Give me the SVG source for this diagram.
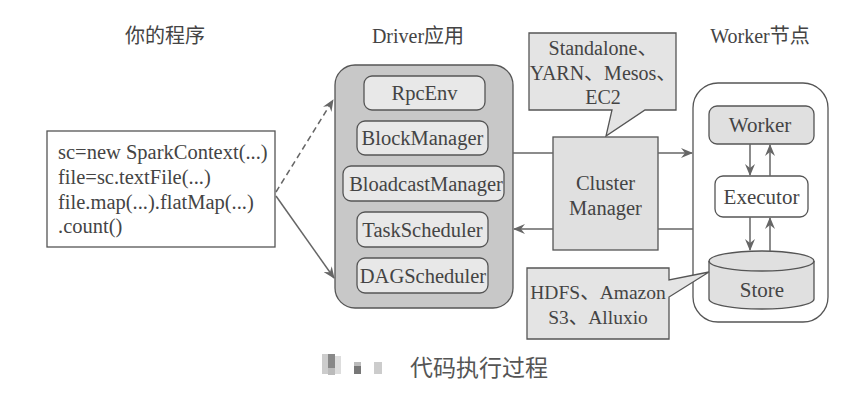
<svg xmlns="http://www.w3.org/2000/svg" width="868" height="402" viewBox="0 0 868 402">
<style>
text{font-family:"Liberation Serif",serif;fill:#444;font-size:20.5px}
.cjk{font-family:"Noto Sans CJK SC",sans-serif}
.title{font-size:20px;text-anchor:middle}
.c{text-anchor:middle}
.box{stroke:#555;stroke-width:1.3}
.line{stroke:#666;stroke-width:1.5;fill:none}
</style>
<defs>
<marker id="ah" viewBox="0 0 12 10" refX="11" refY="5" markerWidth="12" markerHeight="10" markerUnits="userSpaceOnUse" orient="auto">
<path d="M0,0 L12,5 L0,10 L4,5 z" fill="#666"/>
</marker>
</defs>
<rect width="868" height="402" fill="#fff"/>
<text class="title cjk" x="165" y="43">你的程序</text>
<text class="title" x="418" y="43">Driver<tspan class="cjk">应用</tspan></text>
<text class="title" x="760" y="43">Worker<tspan class="cjk">节点</tspan></text>

<g id="code">
<rect class="box" x="47" y="131" width="228" height="116" fill="#fff"/>
<text x="58" y="159">sc=new SparkContext(...)</text>
<text x="58" y="184">file=sc.textFile(...)</text>
<text x="58" y="209">file.map(...).flatMap(...)</text>
<text x="58" y="233">.count()</text>
</g>

<g id="driver">
<rect class="box" x="335" y="65" width="178" height="243" rx="20" fill="#c8c8c8"/>
<g id="rpcenv"><rect class="box" x="364" y="76" width="121" height="34" rx="8" fill="#e8e8e8"/><text class="c" x="424.5" y="100">RpcEnv</text></g>
<g id="blockmanager"><rect class="box" x="357" y="121" width="131" height="34" rx="8" fill="#e8e8e8"/><text class="c" x="422.5" y="145">BlockManager</text></g>
<g id="bloadcastmanager"><rect class="box" x="343" y="166" width="161" height="35" rx="8" fill="#e8e8e8"/><text class="c" x="426" y="191">BloadcastManager</text></g>
<g id="taskscheduler"><rect class="box" x="357" y="212" width="131" height="35" rx="8" fill="#e8e8e8"/><text class="c" x="422.5" y="237">TaskScheduler</text></g>
<g id="dagscheduler"><rect class="box" x="357" y="258" width="131" height="35" rx="8" fill="#e8e8e8"/><text class="c" x="423" y="283">DAGScheduler</text></g>
</g>

<g id="callout1">
<path class="box" d="M529,33 H676 V110 H645 L606,136 L612,110 H529 Z" fill="#e4e4e4"/>
<text class="c" x="603" y="55" style="font-size:20px">Standalone<tspan class="cjk">、</tspan></text>
<text class="c" x="603" y="80" style="font-size:20px">YARN<tspan class="cjk">、</tspan>Mesos<tspan class="cjk">、</tspan></text>
<text class="c" x="603" y="104" style="font-size:20px">EC2</text>
</g>

<g id="cluster">
<rect class="box" x="553" y="137" width="105" height="113" fill="#e0e0e0"/>
<text class="c" x="605.5" y="190">Cluster</text>
<text class="c" x="605.5" y="215">Manager</text>
</g>

<g id="workernode">
<rect class="box" x="693" y="83" width="135" height="239" rx="25" fill="#fff"/>
<g id="worker"><rect class="box" x="709" y="106" width="105" height="38" rx="8" fill="#e0e0e0"/><text class="c" x="760" y="132" style="font-size:21px">Worker</text></g>
<g id="executor"><rect class="box" x="715" y="176" width="93" height="41" rx="8" fill="#fff"/><text class="c" x="761.5" y="204" style="font-size:21px">Executor</text></g>
<g id="store">
<path class="box" d="M709,261 A52.5,10 0 0 1 814,261 V299 A52.5,10 0 0 1 709,299 Z" fill="#e0e0e0"/>
<path class="box" d="M709,261 A52.5,10 0 0 0 814,261" fill="none"/>
<text class="c" x="762" y="297" style="font-size:21px">Store</text>
</g>
</g>

<g id="callout2">
<path class="box" d="M527,268 H669 V280 L709,272 L669,297 V339 H527 Z" fill="#e4e4e4"/>
<text class="c" x="598" y="299" style="font-size:19.5px">HDFS<tspan class="cjk">、</tspan>Amazon</text>
<text class="c" x="598" y="324" style="font-size:19.5px">S3<tspan class="cjk">、</tspan>Alluxio</text>
</g>

<g id="connectors">
<line class="line" x1="276" y1="192" x2="333" y2="100" stroke-dasharray="6,4" marker-end="url(#ah)"/>
<line class="line" x1="276" y1="196" x2="334" y2="278" marker-end="url(#ah)"/>
<line class="line" x1="513" y1="153" x2="553" y2="153"/>
<line class="line" x1="658" y1="153" x2="692" y2="153" marker-end="url(#ah)"/>
<line class="line" x1="693" y1="229" x2="658" y2="229"/>
<line class="line" x1="553" y1="229" x2="514" y2="229" marker-end="url(#ah)"/>
<line class="line" x1="750" y1="144" x2="750" y2="175" marker-end="url(#ah)"/>
<line class="line" x1="770" y1="176" x2="770" y2="145" marker-end="url(#ah)"/>
<line class="line" x1="750" y1="217" x2="750" y2="250" marker-end="url(#ah)"/>
<line class="line" x1="770" y1="251" x2="770" y2="218" marker-end="url(#ah)"/>
</g>

<g id="caption">
<rect x="322" y="354" width="6" height="20" fill="#ccc"/>
<rect x="328" y="354" width="7" height="14" fill="#888"/>
<rect x="328" y="368" width="7" height="7" fill="#bbb"/>
<rect x="335" y="356" width="6" height="18" fill="#ddd"/>
<rect x="354" y="362" width="7" height="4" fill="#bbb"/>
<rect x="354" y="366" width="7" height="8" fill="#777"/>
<rect x="374" y="362" width="8" height="12" fill="#ccc"/>
<text class="cjk" x="410" y="376" style="font-size:23px;fill:#555">代码执行过程</text>
</g>
</svg>
